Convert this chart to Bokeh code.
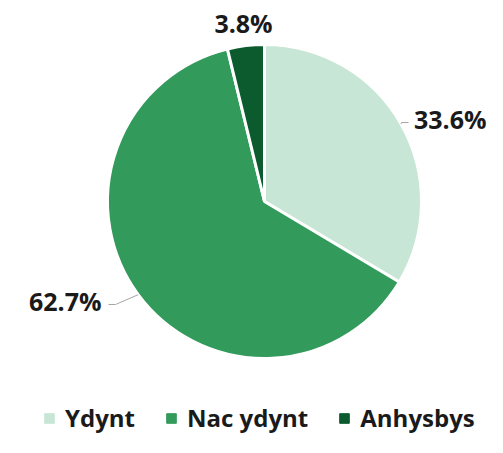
import math
from bokeh.plotting import figure
from bokeh.models import Range1d, Legend, LegendItem, ColumnDataSource
from bokeh.core.properties import value
from bokeh.embed import file_html
from bokeh.resources import INLINE

categories = ["Ydynt", "Nac ydynt", "Anhysbys"]
percents = [33.6, 62.7, 3.8]
labels = ["33.6%", "62.7%", "3.8%"]
colors = ["#c8e6d5", "#329a5b", "#0b5b2e"]

W, H = 487, 437
p = figure(width=W, height=H, output_backend="svg", toolbar_location=None,
           x_range=Range1d(0, W), y_range=Range1d(0, H), min_border=0)
p.axis.visible = False
p.grid.visible = False
p.outline_line_color = None
p.background_fill_color = "white"

cx, cy, R = 264, 236, 157
total = sum(percents)
starts, ends, mids = [], [], []
acc = 0.0
for v in percents:
    a0 = math.pi / 2 - 2 * math.pi * acc / total
    acc += v
    a1 = math.pi / 2 - 2 * math.pi * acc / total
    starts.append(a0)
    ends.append(a1)
    mids.append((a0 + a1) / 2)

src = ColumnDataSource(dict(start=starts, end=ends, color=colors, cat=categories))
p.wedge(x=cx, y=cy, radius=R, start_angle="start", end_angle="end", direction="clock",
        fill_color="color", line_color="white", line_width=3, source=src)

# label layout: (x, y, align, leader end x)
label_layout = [(486, 319, "right", 408), (101, 137, "right", 108), (243, 415, "center", None)]
for i, lab in enumerate(labels):
    lx, ly, al, lead = label_layout[i]
    if lead is not None:
        sx = cx + R * math.cos(mids[i])
        sy = cy + R * math.sin(mids[i])
        hx = lead + 7 if lead < cx else lead - 7
        p.line([sx, hx, lead], [sy, ly - 4, ly - 4], line_color="#a6a6a6", line_width=1)
    p.text(x=[lx], y=[ly], text=[lab], text_align=al, text_baseline="middle",
           text_font=value("Open Sans"), text_font_style="bold", text_font_size="25px",
           text_color="#1a1a1a")

items = []
for c, col in zip(categories, colors):
    r = p.rect(x=[-1000], y=[-1000], width=1, height=1, fill_color=col, line_color=col)
    items.append(LegendItem(label=c, renderers=[r]))

legend = Legend(items=items, orientation="horizontal", location=(43, 3),
                label_text_font="Open Sans", label_text_font_style="bold",
                label_text_font_size="24px", label_text_color="#1a1a1a",
                glyph_width=12, glyph_height=12, spacing=30, label_standoff=10,
                padding=0, margin=0, border_line_color=None, background_fill_alpha=0)
p.add_layout(legend)

open("out.html", "w").write(file_html(p, INLINE))
